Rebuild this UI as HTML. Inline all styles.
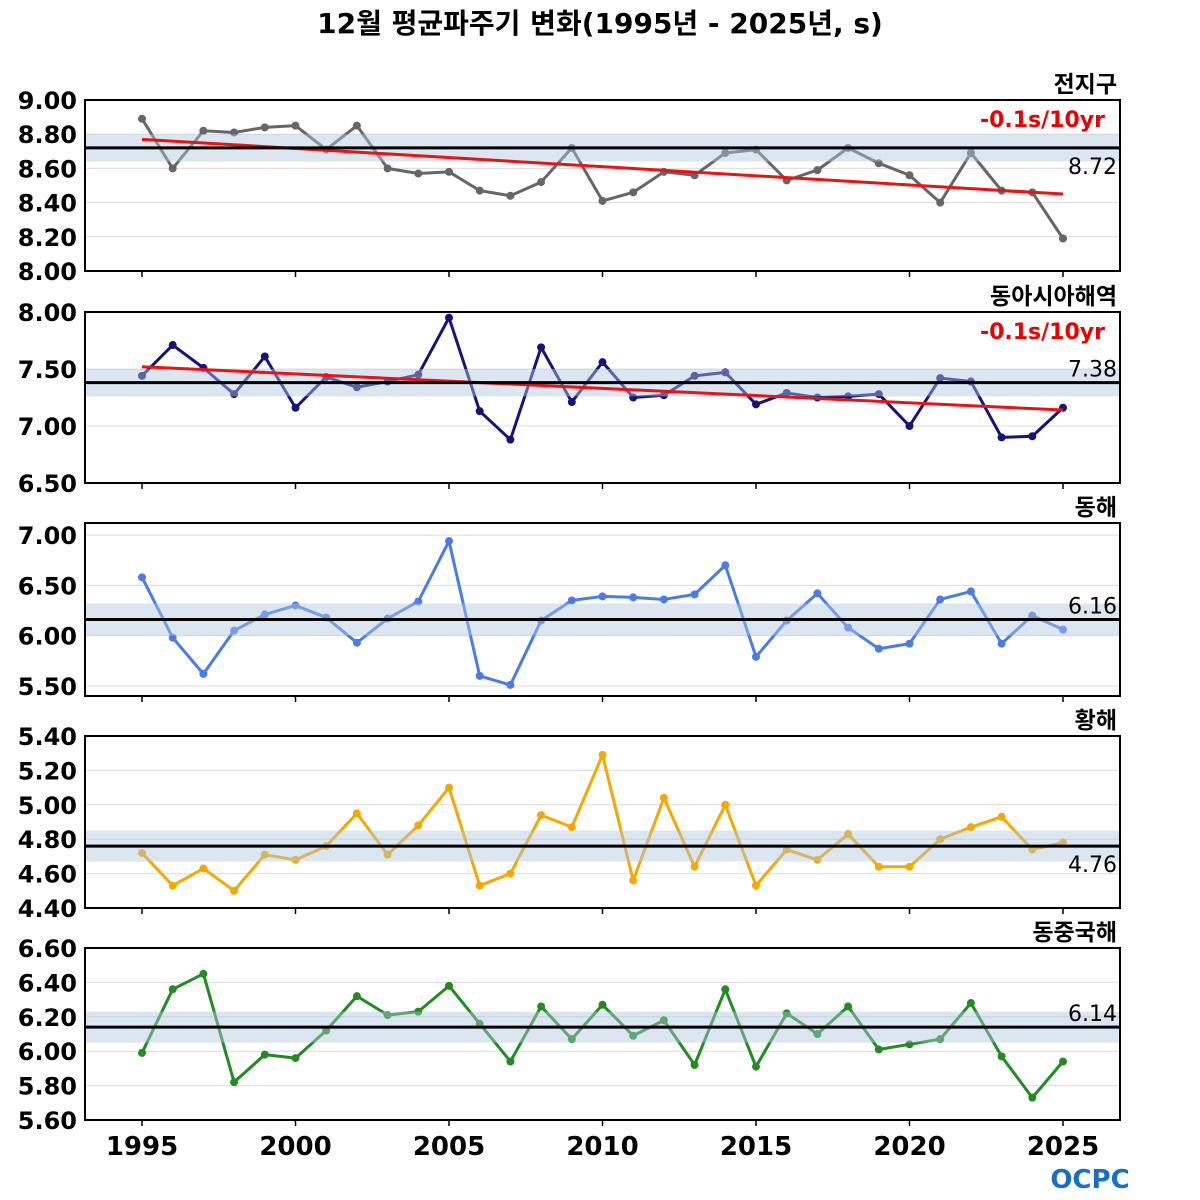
<!DOCTYPE html>
<html><head><meta charset="utf-8"><style>
body{margin:0;background:#fff;}
svg{display:block;font-family:"DejaVu Sans","Noto Sans CJK KR",sans-serif;}
</style></head><body>
<svg id="c" width="1200" height="1200" viewBox="0 0 1200 1200" xmlns="http://www.w3.org/2000/svg">
<text x="600" y="33" text-anchor="middle" font-size="28" font-weight="bold" font-family="DejaVu Sans, Noto Sans CJK KR, sans-serif">12월 평균파주기 변화(1995년 - 2025년, s)</text>
<g id="logo"><text x="1090" y="1188" text-anchor="middle" font-size="26" font-weight="bold" fill="#1b6fc2">OCPC</text></g>
</svg>
<script>
const years = [];
for (let y = 1995; y <= 2025; y++) years.push(y);
const xTicks = [1995, 2000, 2005, 2010, 2015, 2020, 2025];
const regionNames = ['전지구', '동아시아해역', '동해', '황해', '동중국해'];
const globalValues = [8.89,8.60,8.82,8.81,8.84,8.85,8.71,8.85,8.60,8.57,8.58,8.47,8.44,8.52,8.72,8.41,8.46,8.58,8.56,8.69,8.71,8.53,8.59,8.72,8.63,8.56,8.40,8.69,8.47,8.46,8.19];
const eastAsiaValues = [7.44,7.71,7.51,7.28,7.61,7.16,7.43,7.34,7.39,7.45,7.95,7.13,6.88,7.69,7.21,7.56,7.25,7.27,7.44,7.47,7.19,7.29,7.25,7.26,7.28,7.00,7.42,7.39,6.90,6.91,7.16];
const eastSeaValues = [6.58,5.98,5.62,6.05,6.21,6.30,6.18,5.93,6.17,6.34,6.94,5.60,5.51,6.15,6.35,6.39,6.38,6.36,6.41,6.70,5.79,6.15,6.42,6.08,5.87,5.92,6.36,6.44,5.92,6.20,6.06];
const yellowSeaValues = [4.72,4.53,4.63,4.50,4.71,4.68,4.76,4.95,4.71,4.88,5.10,4.53,4.60,4.94,4.87,5.29,4.56,5.04,4.64,5.00,4.53,4.74,4.68,4.83,4.64,4.64,4.80,4.87,4.93,4.74,4.78];
const eastChinaSeaValues = [5.99,6.36,6.45,5.82,5.98,5.96,6.12,6.32,6.21,6.23,6.38,6.16,5.94,6.26,6.07,6.27,6.09,6.18,5.92,6.36,5.91,6.22,6.10,6.26,6.01,6.04,6.07,6.28,5.97,5.73,5.94];
const means = [8.72, 7.38, 6.16, 4.76, 6.14];
const bandHalf = [0.08, 0.12, 0.16, 0.09, 0.09];
const trendStart = [8.77, 7.52, null, null, null];
const trendEnd = [8.45, 7.14, null, null, null];
const trendLabels = ['-0.1s/10yr', '-0.1s/10yr', '', '', ''];
const yTicks1 = [8.00, 8.20, 8.40, 8.60, 8.80, 9.00];
const yTicks2 = [6.50, 7.00, 7.50, 8.00];
const yTicks3 = [5.50, 6.00, 6.50, 7.00];
const yTicks4 = [4.40, 4.60, 4.80, 5.00, 5.20, 5.40];
const yTicks5 = [5.60, 5.80, 6.00, 6.20, 6.40, 6.60];

const seriesList = [globalValues, eastAsiaValues, eastSeaValues, yellowSeaValues, eastChinaSeaValues];
const tickList = [yTicks1, yTicks2, yTicks3, yTicks4, yTicks5];
const colors = ['#666666', '#14147a', '#4a7be8', '#f5a800', '#228b22'];
const slugs = ['global', 'east-asia', 'east-sea', 'yellow-sea', 'east-china-sea'];
const panelTop = [100, 312, 523, 736, 948];
const panelBot = [271, 483, 696, 908, 1120];
const domMin = [8.0, 6.5, 5.40, 4.4, 5.6];
const domMax = [9.0, 8.0, 7.12, 5.4, 6.6];
const X0 = 85, X1 = 1120;
const xs = y => 142 + (y - 1995) * (1063 - 142) / 30;
const NS = 'http://www.w3.org/2000/svg';
const svg = document.getElementById('c');
function mk(tag, attrs, parent) {
  const e = document.createElementNS(NS, tag);
  for (const k in attrs) e.setAttribute(k, attrs[k]);
  (parent || svg).appendChild(e);
  return e;
}
seriesList.forEach((vals, p) => {
  const top = panelTop[p], bot = panelBot[p];
  const ys = v => bot - (v - domMin[p]) / (domMax[p] - domMin[p]) * (bot - top);
  const g = mk('g', {});
  
  
  tickList[p].forEach(t => {
    const gl = mk('line', {x1: X0, x2: X1, y1: ys(t), y2: ys(t), stroke: '#dcdcdc', 'stroke-width': 1}, g);
    
    
    const tl = mk('text', {x: 77, y: ys(t) + 9, 'text-anchor': 'end', 'font-size': 24, 'font-weight': 'bold'}, g);
    tl.textContent = t.toFixed(2);
    
    
  });
  xTicks.forEach(t => {
    const tk = mk('line', {x1: xs(t), x2: xs(t), y1: bot, y2: bot + 6, stroke: '#000', 'stroke-width': 1.5}, g);
    
    
  });
  const pts = vals.map((v, i) => xs(years[i]) + ',' + ys(v)).join(' ');
  const pl = mk('polyline', {points: pts, fill: 'none', stroke: colors[p], 'stroke-width': 3, 'stroke-linejoin': 'round'}, g);
  
  
  vals.forEach((v, i) => {
    const c = mk('circle', {cx: xs(years[i]), cy: ys(v), r: 4, fill: colors[p]}, g);
    
    
  });
  const band = mk('rect', {x: X0, width: X1 - X0, y: ys(means[p] + bandHalf[p]), height: ys(means[p] - bandHalf[p]) - ys(means[p] + bandHalf[p]), fill: 'rgba(176,200,225,0.45)'}, g);
  
  
  if (trendStart[p] !== null) {
    const tr = mk('line', {x1: xs(1995), x2: xs(2025), y1: ys(trendStart[p]), y2: ys(trendEnd[p]), stroke: '#ee1111', 'stroke-width': 3}, g);
    
    
    const tt = mk('text', {x: 1105, y: top + 27, 'text-anchor': 'end', 'font-size': 22, 'font-weight': 'bold', fill: '#ee0000'}, g);
    tt.textContent = trendLabels[p];
    
    
  }
  const ml = mk('line', {x1: X0, x2: X1, y1: ys(means[p]), y2: ys(means[p]), stroke: '#000', 'stroke-width': 3}, g);
  
  
  const mt = mk('text', {x: 1117, y: ys(means[p]) + (p === 0 || p === 3 ? 26 : -6), 'text-anchor': 'end', 'font-size': 22}, g);
  mt.textContent = means[p].toFixed(2);
  
  
  const fr = mk('rect', {x: X0, y: top, width: X1 - X0, height: bot - top, fill: 'none', stroke: '#000', 'stroke-width': 2}, g);
  
  
  const pt = mk('text', {x: 1117, y: top - 8, 'text-anchor': 'end', 'font-size': 23, 'font-weight': 'bold'}, g);
  pt.textContent = regionNames[p];
  
  
});
xTicks.forEach(t => {
  const xl = mk('text', {x: xs(t), y: 1155, 'text-anchor': 'middle', 'font-size': 26, 'font-weight': 'bold'});
  xl.textContent = t;
  
  
});
</script>
</body></html>
